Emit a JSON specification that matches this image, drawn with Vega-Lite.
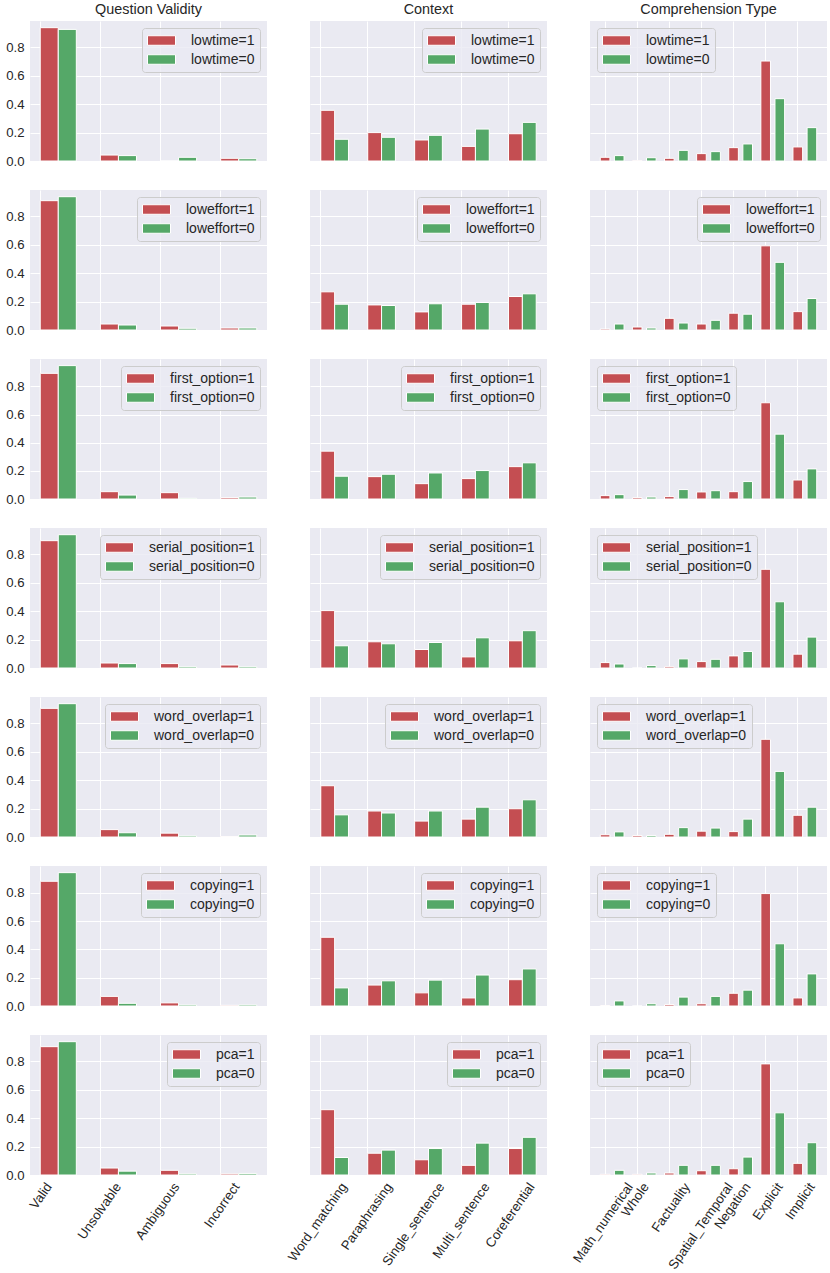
{
  "$schema": "https://vega.github.io/schema/vega-lite/v6.json",
  "background": "#ffffff",
  "padding": {"left": 5, "top": 1, "right": 0, "bottom": 0},
  "autosize": {"type": "pad"},
  "data": {
    "values": [
      {"flag": "lowtime", "panel": "validity", "cat": "Valid", "series": "lowtime=1", "v": 0.939},
      {"flag": "lowtime", "panel": "validity", "cat": "Valid", "series": "lowtime=0", "v": 0.927},
      {"flag": "lowtime", "panel": "validity", "cat": "Unsolvable", "series": "lowtime=1", "v": 0.042},
      {"flag": "lowtime", "panel": "validity", "cat": "Unsolvable", "series": "lowtime=0", "v": 0.038},
      {"flag": "lowtime", "panel": "validity", "cat": "Ambiguous", "series": "lowtime=1", "v": 0.0},
      {"flag": "lowtime", "panel": "validity", "cat": "Ambiguous", "series": "lowtime=0", "v": 0.026},
      {"flag": "lowtime", "panel": "validity", "cat": "Incorrect", "series": "lowtime=1", "v": 0.019},
      {"flag": "lowtime", "panel": "validity", "cat": "Incorrect", "series": "lowtime=0", "v": 0.016},
      {"flag": "lowtime", "panel": "context", "cat": "Word_matching", "series": "lowtime=1", "v": 0.357},
      {"flag": "lowtime", "panel": "context", "cat": "Word_matching", "series": "lowtime=0", "v": 0.153},
      {"flag": "lowtime", "panel": "context", "cat": "Paraphrasing", "series": "lowtime=1", "v": 0.200},
      {"flag": "lowtime", "panel": "context", "cat": "Paraphrasing", "series": "lowtime=0", "v": 0.167},
      {"flag": "lowtime", "panel": "context", "cat": "Single_sentence", "series": "lowtime=1", "v": 0.148},
      {"flag": "lowtime", "panel": "context", "cat": "Single_sentence", "series": "lowtime=0", "v": 0.181},
      {"flag": "lowtime", "panel": "context", "cat": "Multi_sentence", "series": "lowtime=1", "v": 0.103},
      {"flag": "lowtime", "panel": "context", "cat": "Multi_sentence", "series": "lowtime=0", "v": 0.225},
      {"flag": "lowtime", "panel": "context", "cat": "Coreferential", "series": "lowtime=1", "v": 0.192},
      {"flag": "lowtime", "panel": "context", "cat": "Coreferential", "series": "lowtime=0", "v": 0.272},
      {"flag": "lowtime", "panel": "comprehension", "cat": "Math_numerical", "series": "lowtime=1", "v": 0.026},
      {"flag": "lowtime", "panel": "comprehension", "cat": "Math_numerical", "series": "lowtime=0", "v": 0.038},
      {"flag": "lowtime", "panel": "comprehension", "cat": "Whole", "series": "lowtime=1", "v": 0.002},
      {"flag": "lowtime", "panel": "comprehension", "cat": "Whole", "series": "lowtime=0", "v": 0.023},
      {"flag": "lowtime", "panel": "comprehension", "cat": "Factuality", "series": "lowtime=1", "v": 0.019},
      {"flag": "lowtime", "panel": "comprehension", "cat": "Factuality", "series": "lowtime=0", "v": 0.075},
      {"flag": "lowtime", "panel": "comprehension", "cat": "Spatial_Temporal", "series": "lowtime=1", "v": 0.052},
      {"flag": "lowtime", "panel": "comprehension", "cat": "Spatial_Temporal", "series": "lowtime=0", "v": 0.066},
      {"flag": "lowtime", "panel": "comprehension", "cat": "Negation", "series": "lowtime=1", "v": 0.094},
      {"flag": "lowtime", "panel": "comprehension", "cat": "Negation", "series": "lowtime=0", "v": 0.120},
      {"flag": "lowtime", "panel": "comprehension", "cat": "Explicit", "series": "lowtime=1", "v": 0.704},
      {"flag": "lowtime", "panel": "comprehension", "cat": "Explicit", "series": "lowtime=0", "v": 0.439},
      {"flag": "lowtime", "panel": "comprehension", "cat": "Implicit", "series": "lowtime=1", "v": 0.099},
      {"flag": "lowtime", "panel": "comprehension", "cat": "Implicit", "series": "lowtime=0", "v": 0.235},

      {"flag": "loweffort", "panel": "validity", "cat": "Valid", "series": "loweffort=1", "v": 0.908},
      {"flag": "loweffort", "panel": "validity", "cat": "Valid", "series": "loweffort=0", "v": 0.936},
      {"flag": "loweffort", "panel": "validity", "cat": "Unsolvable", "series": "loweffort=1", "v": 0.042},
      {"flag": "loweffort", "panel": "validity", "cat": "Unsolvable", "series": "loweffort=0", "v": 0.035},
      {"flag": "loweffort", "panel": "validity", "cat": "Ambiguous", "series": "loweffort=1", "v": 0.028},
      {"flag": "loweffort", "panel": "validity", "cat": "Ambiguous", "series": "loweffort=0", "v": 0.012},
      {"flag": "loweffort", "panel": "validity", "cat": "Incorrect", "series": "loweffort=1", "v": 0.014},
      {"flag": "loweffort", "panel": "validity", "cat": "Incorrect", "series": "loweffort=0", "v": 0.014},
      {"flag": "loweffort", "panel": "context", "cat": "Word_matching", "series": "loweffort=1", "v": 0.268},
      {"flag": "loweffort", "panel": "context", "cat": "Word_matching", "series": "loweffort=0", "v": 0.181},
      {"flag": "loweffort", "panel": "context", "cat": "Paraphrasing", "series": "loweffort=1", "v": 0.176},
      {"flag": "loweffort", "panel": "context", "cat": "Paraphrasing", "series": "loweffort=0", "v": 0.172},
      {"flag": "loweffort", "panel": "context", "cat": "Single_sentence", "series": "loweffort=1", "v": 0.127},
      {"flag": "loweffort", "panel": "context", "cat": "Single_sentence", "series": "loweffort=0", "v": 0.184},
      {"flag": "loweffort", "panel": "context", "cat": "Multi_sentence", "series": "loweffort=1", "v": 0.181},
      {"flag": "loweffort", "panel": "context", "cat": "Multi_sentence", "series": "loweffort=0", "v": 0.193},
      {"flag": "loweffort", "panel": "context", "cat": "Coreferential", "series": "loweffort=1", "v": 0.235},
      {"flag": "loweffort", "panel": "context", "cat": "Coreferential", "series": "loweffort=0", "v": 0.254},
      {"flag": "loweffort", "panel": "comprehension", "cat": "Math_numerical", "series": "loweffort=1", "v": 0.007},
      {"flag": "loweffort", "panel": "comprehension", "cat": "Math_numerical", "series": "loweffort=0", "v": 0.042},
      {"flag": "loweffort", "panel": "comprehension", "cat": "Whole", "series": "loweffort=1", "v": 0.021},
      {"flag": "loweffort", "panel": "comprehension", "cat": "Whole", "series": "loweffort=0", "v": 0.014},
      {"flag": "loweffort", "panel": "comprehension", "cat": "Factuality", "series": "loweffort=1", "v": 0.082},
      {"flag": "loweffort", "panel": "comprehension", "cat": "Factuality", "series": "loweffort=0", "v": 0.049},
      {"flag": "loweffort", "panel": "comprehension", "cat": "Spatial_Temporal", "series": "loweffort=1", "v": 0.042},
      {"flag": "loweffort", "panel": "comprehension", "cat": "Spatial_Temporal", "series": "loweffort=0", "v": 0.068},
      {"flag": "loweffort", "panel": "comprehension", "cat": "Negation", "series": "loweffort=1", "v": 0.118},
      {"flag": "loweffort", "panel": "comprehension", "cat": "Negation", "series": "loweffort=0", "v": 0.111},
      {"flag": "loweffort", "panel": "comprehension", "cat": "Explicit", "series": "loweffort=1", "v": 0.591},
      {"flag": "loweffort", "panel": "comprehension", "cat": "Explicit", "series": "loweffort=0", "v": 0.475},
      {"flag": "loweffort", "panel": "comprehension", "cat": "Implicit", "series": "loweffort=1", "v": 0.129},
      {"flag": "loweffort", "panel": "comprehension", "cat": "Implicit", "series": "loweffort=0", "v": 0.221},

      {"flag": "first_option", "panel": "validity", "cat": "Valid", "series": "first_option=1", "v": 0.893},
      {"flag": "first_option", "panel": "validity", "cat": "Valid", "series": "first_option=0", "v": 0.948},
      {"flag": "first_option", "panel": "validity", "cat": "Unsolvable", "series": "first_option=1", "v": 0.052},
      {"flag": "first_option", "panel": "validity", "cat": "Unsolvable", "series": "first_option=0", "v": 0.028},
      {"flag": "first_option", "panel": "validity", "cat": "Ambiguous", "series": "first_option=1", "v": 0.045},
      {"flag": "first_option", "panel": "validity", "cat": "Ambiguous", "series": "first_option=0", "v": 0.005},
      {"flag": "first_option", "panel": "validity", "cat": "Incorrect", "series": "first_option=1", "v": 0.010},
      {"flag": "first_option", "panel": "validity", "cat": "Incorrect", "series": "first_option=0", "v": 0.014},
      {"flag": "first_option", "panel": "context", "cat": "Word_matching", "series": "first_option=1", "v": 0.340},
      {"flag": "first_option", "panel": "context", "cat": "Word_matching", "series": "first_option=0", "v": 0.162},
      {"flag": "first_option", "panel": "context", "cat": "Paraphrasing", "series": "first_option=1", "v": 0.159},
      {"flag": "first_option", "panel": "context", "cat": "Paraphrasing", "series": "first_option=0", "v": 0.176},
      {"flag": "first_option", "panel": "context", "cat": "Single_sentence", "series": "first_option=1", "v": 0.109},
      {"flag": "first_option", "panel": "context", "cat": "Single_sentence", "series": "first_option=0", "v": 0.185},
      {"flag": "first_option", "panel": "context", "cat": "Multi_sentence", "series": "first_option=1", "v": 0.145},
      {"flag": "first_option", "panel": "context", "cat": "Multi_sentence", "series": "first_option=0", "v": 0.202},
      {"flag": "first_option", "panel": "context", "cat": "Coreferential", "series": "first_option=1", "v": 0.230},
      {"flag": "first_option", "panel": "context", "cat": "Coreferential", "series": "first_option=0", "v": 0.257},
      {"flag": "first_option", "panel": "comprehension", "cat": "Math_numerical", "series": "first_option=1", "v": 0.024},
      {"flag": "first_option", "panel": "comprehension", "cat": "Math_numerical", "series": "first_option=0", "v": 0.031},
      {"flag": "first_option", "panel": "comprehension", "cat": "Whole", "series": "first_option=1", "v": 0.010},
      {"flag": "first_option", "panel": "comprehension", "cat": "Whole", "series": "first_option=0", "v": 0.014},
      {"flag": "first_option", "panel": "comprehension", "cat": "Factuality", "series": "first_option=1", "v": 0.017},
      {"flag": "first_option", "panel": "comprehension", "cat": "Factuality", "series": "first_option=0", "v": 0.067},
      {"flag": "first_option", "panel": "comprehension", "cat": "Spatial_Temporal", "series": "first_option=1", "v": 0.050},
      {"flag": "first_option", "panel": "comprehension", "cat": "Spatial_Temporal", "series": "first_option=0", "v": 0.059},
      {"flag": "first_option", "panel": "comprehension", "cat": "Negation", "series": "first_option=1", "v": 0.052},
      {"flag": "first_option", "panel": "comprehension", "cat": "Negation", "series": "first_option=0", "v": 0.124},
      {"flag": "first_option", "panel": "comprehension", "cat": "Explicit", "series": "first_option=1", "v": 0.684},
      {"flag": "first_option", "panel": "comprehension", "cat": "Explicit", "series": "first_option=0", "v": 0.461},
      {"flag": "first_option", "panel": "comprehension", "cat": "Implicit", "series": "first_option=1", "v": 0.135},
      {"flag": "first_option", "panel": "comprehension", "cat": "Implicit", "series": "first_option=0", "v": 0.214},

      {"flag": "serial_position", "panel": "validity", "cat": "Valid", "series": "serial_position=1", "v": 0.894},
      {"flag": "serial_position", "panel": "validity", "cat": "Valid", "series": "serial_position=0", "v": 0.936},
      {"flag": "serial_position", "panel": "validity", "cat": "Unsolvable", "series": "serial_position=1", "v": 0.035},
      {"flag": "serial_position", "panel": "validity", "cat": "Unsolvable", "series": "serial_position=0", "v": 0.031},
      {"flag": "serial_position", "panel": "validity", "cat": "Ambiguous", "series": "serial_position=1", "v": 0.031},
      {"flag": "serial_position", "panel": "validity", "cat": "Ambiguous", "series": "serial_position=0", "v": 0.009},
      {"flag": "serial_position", "panel": "validity", "cat": "Incorrect", "series": "serial_position=1", "v": 0.021},
      {"flag": "serial_position", "panel": "validity", "cat": "Incorrect", "series": "serial_position=0", "v": 0.009},
      {"flag": "serial_position", "panel": "context", "cat": "Word_matching", "series": "serial_position=1", "v": 0.403},
      {"flag": "serial_position", "panel": "context", "cat": "Word_matching", "series": "serial_position=0", "v": 0.156},
      {"flag": "serial_position", "panel": "context", "cat": "Paraphrasing", "series": "serial_position=1", "v": 0.184},
      {"flag": "serial_position", "panel": "context", "cat": "Paraphrasing", "series": "serial_position=0", "v": 0.170},
      {"flag": "serial_position", "panel": "context", "cat": "Single_sentence", "series": "serial_position=1", "v": 0.130},
      {"flag": "serial_position", "panel": "context", "cat": "Single_sentence", "series": "serial_position=0", "v": 0.179},
      {"flag": "serial_position", "panel": "context", "cat": "Multi_sentence", "series": "serial_position=1", "v": 0.078},
      {"flag": "serial_position", "panel": "context", "cat": "Multi_sentence", "series": "serial_position=0", "v": 0.212},
      {"flag": "serial_position", "panel": "context", "cat": "Coreferential", "series": "serial_position=1", "v": 0.191},
      {"flag": "serial_position", "panel": "context", "cat": "Coreferential", "series": "serial_position=0", "v": 0.262},
      {"flag": "serial_position", "panel": "comprehension", "cat": "Math_numerical", "series": "serial_position=1", "v": 0.038},
      {"flag": "serial_position", "panel": "comprehension", "cat": "Math_numerical", "series": "serial_position=0", "v": 0.028},
      {"flag": "serial_position", "panel": "comprehension", "cat": "Whole", "series": "serial_position=1", "v": 0.0},
      {"flag": "serial_position", "panel": "comprehension", "cat": "Whole", "series": "serial_position=0", "v": 0.017},
      {"flag": "serial_position", "panel": "comprehension", "cat": "Factuality", "series": "serial_position=1", "v": 0.009},
      {"flag": "serial_position", "panel": "comprehension", "cat": "Factuality", "series": "serial_position=0", "v": 0.064},
      {"flag": "serial_position", "panel": "comprehension", "cat": "Spatial_Temporal", "series": "serial_position=1", "v": 0.045},
      {"flag": "serial_position", "panel": "comprehension", "cat": "Spatial_Temporal", "series": "serial_position=0", "v": 0.061},
      {"flag": "serial_position", "panel": "comprehension", "cat": "Negation", "series": "serial_position=1", "v": 0.085},
      {"flag": "serial_position", "panel": "comprehension", "cat": "Negation", "series": "serial_position=0", "v": 0.116},
      {"flag": "serial_position", "panel": "comprehension", "cat": "Explicit", "series": "serial_position=1", "v": 0.693},
      {"flag": "serial_position", "panel": "comprehension", "cat": "Explicit", "series": "serial_position=0", "v": 0.465},
      {"flag": "serial_position", "panel": "comprehension", "cat": "Implicit", "series": "serial_position=1", "v": 0.097},
      {"flag": "serial_position", "panel": "comprehension", "cat": "Implicit", "series": "serial_position=0", "v": 0.217},

      {"flag": "word_overlap", "panel": "validity", "cat": "Valid", "series": "word_overlap=1", "v": 0.906},
      {"flag": "word_overlap", "panel": "validity", "cat": "Valid", "series": "word_overlap=0", "v": 0.939},
      {"flag": "word_overlap", "panel": "validity", "cat": "Unsolvable", "series": "word_overlap=1", "v": 0.052},
      {"flag": "word_overlap", "panel": "validity", "cat": "Unsolvable", "series": "word_overlap=0", "v": 0.030},
      {"flag": "word_overlap", "panel": "validity", "cat": "Ambiguous", "series": "word_overlap=1", "v": 0.027},
      {"flag": "word_overlap", "panel": "validity", "cat": "Ambiguous", "series": "word_overlap=0", "v": 0.008},
      {"flag": "word_overlap", "panel": "validity", "cat": "Incorrect", "series": "word_overlap=1", "v": 0.003},
      {"flag": "word_overlap", "panel": "validity", "cat": "Incorrect", "series": "word_overlap=0", "v": 0.014},
      {"flag": "word_overlap", "panel": "context", "cat": "Word_matching", "series": "word_overlap=1", "v": 0.361},
      {"flag": "word_overlap", "panel": "context", "cat": "Word_matching", "series": "word_overlap=0", "v": 0.156},
      {"flag": "word_overlap", "panel": "context", "cat": "Paraphrasing", "series": "word_overlap=1", "v": 0.183},
      {"flag": "word_overlap", "panel": "context", "cat": "Paraphrasing", "series": "word_overlap=0", "v": 0.169},
      {"flag": "word_overlap", "panel": "context", "cat": "Single_sentence", "series": "word_overlap=1", "v": 0.112},
      {"flag": "word_overlap", "panel": "context", "cat": "Single_sentence", "series": "word_overlap=0", "v": 0.183},
      {"flag": "word_overlap", "panel": "context", "cat": "Multi_sentence", "series": "word_overlap=1", "v": 0.126},
      {"flag": "word_overlap", "panel": "context", "cat": "Multi_sentence", "series": "word_overlap=0", "v": 0.210},
      {"flag": "word_overlap", "panel": "context", "cat": "Coreferential", "series": "word_overlap=1", "v": 0.199},
      {"flag": "word_overlap", "panel": "context", "cat": "Coreferential", "series": "word_overlap=0", "v": 0.262},
      {"flag": "word_overlap", "panel": "comprehension", "cat": "Math_numerical", "series": "word_overlap=1", "v": 0.016},
      {"flag": "word_overlap", "panel": "comprehension", "cat": "Math_numerical", "series": "word_overlap=0", "v": 0.036},
      {"flag": "word_overlap", "panel": "comprehension", "cat": "Whole", "series": "word_overlap=1", "v": 0.011},
      {"flag": "word_overlap", "panel": "comprehension", "cat": "Whole", "series": "word_overlap=0", "v": 0.011},
      {"flag": "word_overlap", "panel": "comprehension", "cat": "Factuality", "series": "word_overlap=1", "v": 0.019},
      {"flag": "word_overlap", "panel": "comprehension", "cat": "Factuality", "series": "word_overlap=0", "v": 0.066},
      {"flag": "word_overlap", "panel": "comprehension", "cat": "Spatial_Temporal", "series": "word_overlap=1", "v": 0.041},
      {"flag": "word_overlap", "panel": "comprehension", "cat": "Spatial_Temporal", "series": "word_overlap=0", "v": 0.063},
      {"flag": "word_overlap", "panel": "comprehension", "cat": "Negation", "series": "word_overlap=1", "v": 0.038},
      {"flag": "word_overlap", "panel": "comprehension", "cat": "Negation", "series": "word_overlap=0", "v": 0.126},
      {"flag": "word_overlap", "panel": "comprehension", "cat": "Explicit", "series": "word_overlap=1", "v": 0.688},
      {"flag": "word_overlap", "panel": "comprehension", "cat": "Explicit", "series": "word_overlap=0", "v": 0.462},
      {"flag": "word_overlap", "panel": "comprehension", "cat": "Implicit", "series": "word_overlap=1", "v": 0.153},
      {"flag": "word_overlap", "panel": "comprehension", "cat": "Implicit", "series": "word_overlap=0", "v": 0.210},

      {"flag": "copying", "panel": "validity", "cat": "Valid", "series": "copying=1", "v": 0.882},
      {"flag": "copying", "panel": "validity", "cat": "Valid", "series": "copying=0", "v": 0.943},
      {"flag": "copying", "panel": "validity", "cat": "Unsolvable", "series": "copying=1", "v": 0.068},
      {"flag": "copying", "panel": "validity", "cat": "Unsolvable", "series": "copying=0", "v": 0.019},
      {"flag": "copying", "panel": "validity", "cat": "Ambiguous", "series": "copying=1", "v": 0.022},
      {"flag": "copying", "panel": "validity", "cat": "Ambiguous", "series": "copying=0", "v": 0.008},
      {"flag": "copying", "panel": "validity", "cat": "Incorrect", "series": "copying=1", "v": 0.005},
      {"flag": "copying", "panel": "validity", "cat": "Incorrect", "series": "copying=0", "v": 0.008},
      {"flag": "copying", "panel": "context", "cat": "Word_matching", "series": "copying=1", "v": 0.486},
      {"flag": "copying", "panel": "context", "cat": "Word_matching", "series": "copying=0", "v": 0.128},
      {"flag": "copying", "panel": "context", "cat": "Paraphrasing", "series": "copying=1", "v": 0.148},
      {"flag": "copying", "panel": "context", "cat": "Paraphrasing", "series": "copying=0", "v": 0.178},
      {"flag": "copying", "panel": "context", "cat": "Single_sentence", "series": "copying=1", "v": 0.093},
      {"flag": "copying", "panel": "context", "cat": "Single_sentence", "series": "copying=0", "v": 0.183},
      {"flag": "copying", "panel": "context", "cat": "Multi_sentence", "series": "copying=1", "v": 0.057},
      {"flag": "copying", "panel": "context", "cat": "Multi_sentence", "series": "copying=0", "v": 0.219},
      {"flag": "copying", "panel": "context", "cat": "Coreferential", "series": "copying=1", "v": 0.186},
      {"flag": "copying", "panel": "context", "cat": "Coreferential", "series": "copying=0", "v": 0.262},
      {"flag": "copying", "panel": "comprehension", "cat": "Math_numerical", "series": "copying=1", "v": 0.003},
      {"flag": "copying", "panel": "comprehension", "cat": "Math_numerical", "series": "copying=0", "v": 0.036},
      {"flag": "copying", "panel": "comprehension", "cat": "Whole", "series": "copying=1", "v": 0.0},
      {"flag": "copying", "panel": "comprehension", "cat": "Whole", "series": "copying=0", "v": 0.016},
      {"flag": "copying", "panel": "comprehension", "cat": "Factuality", "series": "copying=1", "v": 0.011},
      {"flag": "copying", "panel": "comprehension", "cat": "Factuality", "series": "copying=0", "v": 0.063},
      {"flag": "copying", "panel": "comprehension", "cat": "Spatial_Temporal", "series": "copying=1", "v": 0.016},
      {"flag": "copying", "panel": "comprehension", "cat": "Spatial_Temporal", "series": "copying=0", "v": 0.068},
      {"flag": "copying", "panel": "comprehension", "cat": "Negation", "series": "copying=1", "v": 0.090},
      {"flag": "copying", "panel": "comprehension", "cat": "Negation", "series": "copying=0", "v": 0.112},
      {"flag": "copying", "panel": "comprehension", "cat": "Explicit", "series": "copying=1", "v": 0.795},
      {"flag": "copying", "panel": "comprehension", "cat": "Explicit", "series": "copying=0", "v": 0.440},
      {"flag": "copying", "panel": "comprehension", "cat": "Implicit", "series": "copying=1", "v": 0.057},
      {"flag": "copying", "panel": "comprehension", "cat": "Implicit", "series": "copying=0", "v": 0.227},

      {"flag": "pca", "panel": "validity", "cat": "Valid", "series": "pca=1", "v": 0.902},
      {"flag": "pca", "panel": "validity", "cat": "Valid", "series": "pca=0", "v": 0.937},
      {"flag": "pca", "panel": "validity", "cat": "Unsolvable", "series": "pca=1", "v": 0.049},
      {"flag": "pca", "panel": "validity", "cat": "Unsolvable", "series": "pca=0", "v": 0.027},
      {"flag": "pca", "panel": "validity", "cat": "Ambiguous", "series": "pca=1", "v": 0.033},
      {"flag": "pca", "panel": "validity", "cat": "Ambiguous", "series": "pca=0", "v": 0.008},
      {"flag": "pca", "panel": "validity", "cat": "Incorrect", "series": "pca=1", "v": 0.008},
      {"flag": "pca", "panel": "validity", "cat": "Incorrect", "series": "pca=0", "v": 0.011},
      {"flag": "pca", "panel": "context", "cat": "Word_matching", "series": "pca=1", "v": 0.459},
      {"flag": "pca", "panel": "context", "cat": "Word_matching", "series": "pca=0", "v": 0.123},
      {"flag": "pca", "panel": "context", "cat": "Paraphrasing", "series": "pca=1", "v": 0.153},
      {"flag": "pca", "panel": "context", "cat": "Paraphrasing", "series": "pca=0", "v": 0.175},
      {"flag": "pca", "panel": "context", "cat": "Single_sentence", "series": "pca=1", "v": 0.107},
      {"flag": "pca", "panel": "context", "cat": "Single_sentence", "series": "pca=0", "v": 0.186},
      {"flag": "pca", "panel": "context", "cat": "Multi_sentence", "series": "pca=1", "v": 0.068},
      {"flag": "pca", "panel": "context", "cat": "Multi_sentence", "series": "pca=0", "v": 0.224},
      {"flag": "pca", "panel": "context", "cat": "Coreferential", "series": "pca=1", "v": 0.186},
      {"flag": "pca", "panel": "context", "cat": "Coreferential", "series": "pca=0", "v": 0.265},
      {"flag": "pca", "panel": "comprehension", "cat": "Math_numerical", "series": "pca=1", "v": 0.005},
      {"flag": "pca", "panel": "comprehension", "cat": "Math_numerical", "series": "pca=0", "v": 0.033},
      {"flag": "pca", "panel": "comprehension", "cat": "Whole", "series": "pca=1", "v": 0.005},
      {"flag": "pca", "panel": "comprehension", "cat": "Whole", "series": "pca=0", "v": 0.014},
      {"flag": "pca", "panel": "comprehension", "cat": "Factuality", "series": "pca=1", "v": 0.014},
      {"flag": "pca", "panel": "comprehension", "cat": "Factuality", "series": "pca=0", "v": 0.068},
      {"flag": "pca", "panel": "comprehension", "cat": "Spatial_Temporal", "series": "pca=1", "v": 0.030},
      {"flag": "pca", "panel": "comprehension", "cat": "Spatial_Temporal", "series": "pca=0", "v": 0.068},
      {"flag": "pca", "panel": "comprehension", "cat": "Negation", "series": "pca=1", "v": 0.044},
      {"flag": "pca", "panel": "comprehension", "cat": "Negation", "series": "pca=0", "v": 0.126},
      {"flag": "pca", "panel": "comprehension", "cat": "Explicit", "series": "pca=1", "v": 0.781},
      {"flag": "pca", "panel": "comprehension", "cat": "Explicit", "series": "pca=0", "v": 0.437},
      {"flag": "pca", "panel": "comprehension", "cat": "Implicit", "series": "pca=1", "v": 0.082},
      {"flag": "pca", "panel": "comprehension", "cat": "Implicit", "series": "pca=0", "v": 0.227}
    ]
  },
  "columns": 3,
  "bounds": "flush",
  "spacing": {"row": 29, "column": 43},
  "resolve": {
    "scale": {"x": "independent", "y": "independent", "color": "independent", "xOffset": "independent"},
    "legend": {"color": "independent"}
  },
  "concat": [
    {
      "title": "Question Validity", "width": 237, "height": 140,
      "transform": [{"filter": "datum.flag == 'lowtime' && datum.panel == 'validity'"}],
      "mark": "bar",
      "encoding": {
        "x": {"field": "cat", "type": "nominal", "title": null, "sort": ["Valid", "Unsolvable", "Ambiguous", "Incorrect"], "scale": {"paddingInner": 0.4, "paddingOuter": 0.17}, "axis": {"bandPosition": 0, "labels": false}},
        "xOffset": {"field": "series", "type": "nominal", "sort": "descending"},
        "y": {"field": "v", "type": "quantitative", "title": null, "scale": {"domain": [0, 0.986]}},
        "color": {"field": "series", "type": "nominal", "sort": "descending", "legend": {"title": null, "orient": "top-right"}}
      }
    },
    {
      "title": "Context", "width": 237, "height": 140,
      "transform": [{"filter": "datum.flag == 'lowtime' && datum.panel == 'context'"}],
      "mark": "bar",
      "encoding": {
        "x": {"field": "cat", "type": "nominal", "title": null, "sort": ["Word_matching", "Paraphrasing", "Single_sentence", "Multi_sentence", "Coreferential"], "scale": {"paddingInner": 0.41, "paddingOuter": 0.23}, "axis": {"bandPosition": 0, "labels": false}},
        "xOffset": {"field": "series", "type": "nominal", "sort": "descending"},
        "y": {"field": "v", "type": "quantitative", "title": null, "scale": {"domain": [0, 0.986]}, "axis": {"labels": false}},
        "color": {"field": "series", "type": "nominal", "sort": "descending", "legend": {"title": null, "orient": "top-right"}}
      }
    },
    {
      "title": "Comprehension Type", "width": 237, "height": 140,
      "transform": [{"filter": "datum.flag == 'lowtime' && datum.panel == 'comprehension'"}],
      "mark": "bar",
      "encoding": {
        "x": {"field": "cat", "type": "nominal", "title": null, "sort": ["Math_numerical", "Whole", "Factuality", "Spatial_Temporal", "Negation", "Explicit", "Implicit"], "scale": {"paddingInner": 0.26, "paddingOuter": 0.32}, "axis": {"bandPosition": 0.203, "labels": false}},
        "xOffset": {"field": "series", "type": "nominal", "sort": "descending", "scale": {"paddingInner": 0.318}},
        "y": {"field": "v", "type": "quantitative", "title": null, "scale": {"domain": [0, 0.986]}, "axis": {"labels": false}},
        "color": {"field": "series", "type": "nominal", "sort": "descending", "legend": {"title": null, "orient": "top-left"}}
      }
    },
    {
      "width": 237, "height": 140,
      "transform": [{"filter": "datum.flag == 'loweffort' && datum.panel == 'validity'"}],
      "mark": "bar",
      "encoding": {
        "x": {"field": "cat", "type": "nominal", "title": null, "sort": ["Valid", "Unsolvable", "Ambiguous", "Incorrect"], "scale": {"paddingInner": 0.4, "paddingOuter": 0.17}, "axis": {"bandPosition": 0, "labels": false}},
        "xOffset": {"field": "series", "type": "nominal", "sort": "descending"},
        "y": {"field": "v", "type": "quantitative", "title": null, "scale": {"domain": [0, 0.983]}},
        "color": {"field": "series", "type": "nominal", "sort": "descending", "legend": {"title": null, "orient": "top-right"}}
      }
    },
    {
      "width": 237, "height": 140,
      "transform": [{"filter": "datum.flag == 'loweffort' && datum.panel == 'context'"}],
      "mark": "bar",
      "encoding": {
        "x": {"field": "cat", "type": "nominal", "title": null, "sort": ["Word_matching", "Paraphrasing", "Single_sentence", "Multi_sentence", "Coreferential"], "scale": {"paddingInner": 0.41, "paddingOuter": 0.23}, "axis": {"bandPosition": 0, "labels": false}},
        "xOffset": {"field": "series", "type": "nominal", "sort": "descending"},
        "y": {"field": "v", "type": "quantitative", "title": null, "scale": {"domain": [0, 0.983]}, "axis": {"labels": false}},
        "color": {"field": "series", "type": "nominal", "sort": "descending", "legend": {"title": null, "orient": "top-right"}}
      }
    },
    {
      "width": 237, "height": 140,
      "transform": [{"filter": "datum.flag == 'loweffort' && datum.panel == 'comprehension'"}],
      "mark": "bar",
      "encoding": {
        "x": {"field": "cat", "type": "nominal", "title": null, "sort": ["Math_numerical", "Whole", "Factuality", "Spatial_Temporal", "Negation", "Explicit", "Implicit"], "scale": {"paddingInner": 0.26, "paddingOuter": 0.32}, "axis": {"bandPosition": 0.203, "labels": false}},
        "xOffset": {"field": "series", "type": "nominal", "sort": "descending", "scale": {"paddingInner": 0.318}},
        "y": {"field": "v", "type": "quantitative", "title": null, "scale": {"domain": [0, 0.983]}, "axis": {"labels": false}},
        "color": {"field": "series", "type": "nominal", "sort": "descending", "legend": {"title": null, "orient": "top-right"}}
      }
    },
    {
      "width": 237, "height": 140,
      "transform": [{"filter": "datum.flag == 'first_option' && datum.panel == 'validity'"}],
      "mark": "bar",
      "encoding": {
        "x": {"field": "cat", "type": "nominal", "title": null, "sort": ["Valid", "Unsolvable", "Ambiguous", "Incorrect"], "scale": {"paddingInner": 0.4, "paddingOuter": 0.17}, "axis": {"bandPosition": 0, "labels": false}},
        "xOffset": {"field": "series", "type": "nominal", "sort": "descending"},
        "y": {"field": "v", "type": "quantitative", "title": null, "scale": {"domain": [0, 0.995]}},
        "color": {"field": "series", "type": "nominal", "sort": "descending", "legend": {"title": null, "orient": "top-right"}}
      }
    },
    {
      "width": 237, "height": 140,
      "transform": [{"filter": "datum.flag == 'first_option' && datum.panel == 'context'"}],
      "mark": "bar",
      "encoding": {
        "x": {"field": "cat", "type": "nominal", "title": null, "sort": ["Word_matching", "Paraphrasing", "Single_sentence", "Multi_sentence", "Coreferential"], "scale": {"paddingInner": 0.41, "paddingOuter": 0.23}, "axis": {"bandPosition": 0, "labels": false}},
        "xOffset": {"field": "series", "type": "nominal", "sort": "descending"},
        "y": {"field": "v", "type": "quantitative", "title": null, "scale": {"domain": [0, 0.995]}, "axis": {"labels": false}},
        "color": {"field": "series", "type": "nominal", "sort": "descending", "legend": {"title": null, "orient": "top-right"}}
      }
    },
    {
      "width": 237, "height": 140,
      "transform": [{"filter": "datum.flag == 'first_option' && datum.panel == 'comprehension'"}],
      "mark": "bar",
      "encoding": {
        "x": {"field": "cat", "type": "nominal", "title": null, "sort": ["Math_numerical", "Whole", "Factuality", "Spatial_Temporal", "Negation", "Explicit", "Implicit"], "scale": {"paddingInner": 0.26, "paddingOuter": 0.32}, "axis": {"bandPosition": 0.203, "labels": false}},
        "xOffset": {"field": "series", "type": "nominal", "sort": "descending", "scale": {"paddingInner": 0.318}},
        "y": {"field": "v", "type": "quantitative", "title": null, "scale": {"domain": [0, 0.995]}, "axis": {"labels": false}},
        "color": {"field": "series", "type": "nominal", "sort": "descending", "legend": {"title": null, "orient": "top-left"}}
      }
    },
    {
      "width": 237, "height": 140,
      "transform": [{"filter": "datum.flag == 'serial_position' && datum.panel == 'validity'"}],
      "mark": "bar",
      "encoding": {
        "x": {"field": "cat", "type": "nominal", "title": null, "sort": ["Valid", "Unsolvable", "Ambiguous", "Incorrect"], "scale": {"paddingInner": 0.4, "paddingOuter": 0.17}, "axis": {"bandPosition": 0, "labels": false}},
        "xOffset": {"field": "series", "type": "nominal", "sort": "descending"},
        "y": {"field": "v", "type": "quantitative", "title": null, "scale": {"domain": [0, 0.983]}},
        "color": {"field": "series", "type": "nominal", "sort": "descending", "legend": {"title": null, "orient": "top-right"}}
      }
    },
    {
      "width": 237, "height": 140,
      "transform": [{"filter": "datum.flag == 'serial_position' && datum.panel == 'context'"}],
      "mark": "bar",
      "encoding": {
        "x": {"field": "cat", "type": "nominal", "title": null, "sort": ["Word_matching", "Paraphrasing", "Single_sentence", "Multi_sentence", "Coreferential"], "scale": {"paddingInner": 0.41, "paddingOuter": 0.23}, "axis": {"bandPosition": 0, "labels": false}},
        "xOffset": {"field": "series", "type": "nominal", "sort": "descending"},
        "y": {"field": "v", "type": "quantitative", "title": null, "scale": {"domain": [0, 0.983]}, "axis": {"labels": false}},
        "color": {"field": "series", "type": "nominal", "sort": "descending", "legend": {"title": null, "orient": "top-right"}}
      }
    },
    {
      "width": 237, "height": 140,
      "transform": [{"filter": "datum.flag == 'serial_position' && datum.panel == 'comprehension'"}],
      "mark": "bar",
      "encoding": {
        "x": {"field": "cat", "type": "nominal", "title": null, "sort": ["Math_numerical", "Whole", "Factuality", "Spatial_Temporal", "Negation", "Explicit", "Implicit"], "scale": {"paddingInner": 0.26, "paddingOuter": 0.32}, "axis": {"bandPosition": 0.203, "labels": false}},
        "xOffset": {"field": "series", "type": "nominal", "sort": "descending", "scale": {"paddingInner": 0.318}},
        "y": {"field": "v", "type": "quantitative", "title": null, "scale": {"domain": [0, 0.983]}, "axis": {"labels": false}},
        "color": {"field": "series", "type": "nominal", "sort": "descending", "legend": {"title": null, "orient": "top-left"}}
      }
    },
    {
      "width": 237, "height": 140,
      "transform": [{"filter": "datum.flag == 'word_overlap' && datum.panel == 'validity'"}],
      "mark": "bar",
      "encoding": {
        "x": {"field": "cat", "type": "nominal", "title": null, "sort": ["Valid", "Unsolvable", "Ambiguous", "Incorrect"], "scale": {"paddingInner": 0.4, "paddingOuter": 0.17}, "axis": {"bandPosition": 0, "labels": false}},
        "xOffset": {"field": "series", "type": "nominal", "sort": "descending"},
        "y": {"field": "v", "type": "quantitative", "title": null, "scale": {"domain": [0, 0.986]}},
        "color": {"field": "series", "type": "nominal", "sort": "descending", "legend": {"title": null, "orient": "top-right"}}
      }
    },
    {
      "width": 237, "height": 140,
      "transform": [{"filter": "datum.flag == 'word_overlap' && datum.panel == 'context'"}],
      "mark": "bar",
      "encoding": {
        "x": {"field": "cat", "type": "nominal", "title": null, "sort": ["Word_matching", "Paraphrasing", "Single_sentence", "Multi_sentence", "Coreferential"], "scale": {"paddingInner": 0.41, "paddingOuter": 0.23}, "axis": {"bandPosition": 0, "labels": false}},
        "xOffset": {"field": "series", "type": "nominal", "sort": "descending"},
        "y": {"field": "v", "type": "quantitative", "title": null, "scale": {"domain": [0, 0.986]}, "axis": {"labels": false}},
        "color": {"field": "series", "type": "nominal", "sort": "descending", "legend": {"title": null, "orient": "top-right"}}
      }
    },
    {
      "width": 237, "height": 140,
      "transform": [{"filter": "datum.flag == 'word_overlap' && datum.panel == 'comprehension'"}],
      "mark": "bar",
      "encoding": {
        "x": {"field": "cat", "type": "nominal", "title": null, "sort": ["Math_numerical", "Whole", "Factuality", "Spatial_Temporal", "Negation", "Explicit", "Implicit"], "scale": {"paddingInner": 0.26, "paddingOuter": 0.32}, "axis": {"bandPosition": 0.203, "labels": false}},
        "xOffset": {"field": "series", "type": "nominal", "sort": "descending", "scale": {"paddingInner": 0.318}},
        "y": {"field": "v", "type": "quantitative", "title": null, "scale": {"domain": [0, 0.986]}, "axis": {"labels": false}},
        "color": {"field": "series", "type": "nominal", "sort": "descending", "legend": {"title": null, "orient": "top-left"}}
      }
    },
    {
      "width": 237, "height": 140,
      "transform": [{"filter": "datum.flag == 'copying' && datum.panel == 'validity'"}],
      "mark": "bar",
      "encoding": {
        "x": {"field": "cat", "type": "nominal", "title": null, "sort": ["Valid", "Unsolvable", "Ambiguous", "Incorrect"], "scale": {"paddingInner": 0.4, "paddingOuter": 0.17}, "axis": {"bandPosition": 0, "labels": false}},
        "xOffset": {"field": "series", "type": "nominal", "sort": "descending"},
        "y": {"field": "v", "type": "quantitative", "title": null, "scale": {"domain": [0, 0.99]}},
        "color": {"field": "series", "type": "nominal", "sort": "descending", "legend": {"title": null, "orient": "top-right"}}
      }
    },
    {
      "width": 237, "height": 140,
      "transform": [{"filter": "datum.flag == 'copying' && datum.panel == 'context'"}],
      "mark": "bar",
      "encoding": {
        "x": {"field": "cat", "type": "nominal", "title": null, "sort": ["Word_matching", "Paraphrasing", "Single_sentence", "Multi_sentence", "Coreferential"], "scale": {"paddingInner": 0.41, "paddingOuter": 0.23}, "axis": {"bandPosition": 0, "labels": false}},
        "xOffset": {"field": "series", "type": "nominal", "sort": "descending"},
        "y": {"field": "v", "type": "quantitative", "title": null, "scale": {"domain": [0, 0.99]}, "axis": {"labels": false}},
        "color": {"field": "series", "type": "nominal", "sort": "descending", "legend": {"title": null, "orient": "top-right"}}
      }
    },
    {
      "width": 237, "height": 140,
      "transform": [{"filter": "datum.flag == 'copying' && datum.panel == 'comprehension'"}],
      "mark": "bar",
      "encoding": {
        "x": {"field": "cat", "type": "nominal", "title": null, "sort": ["Math_numerical", "Whole", "Factuality", "Spatial_Temporal", "Negation", "Explicit", "Implicit"], "scale": {"paddingInner": 0.26, "paddingOuter": 0.32}, "axis": {"bandPosition": 0.203, "labels": false}},
        "xOffset": {"field": "series", "type": "nominal", "sort": "descending", "scale": {"paddingInner": 0.318}},
        "y": {"field": "v", "type": "quantitative", "title": null, "scale": {"domain": [0, 0.99]}, "axis": {"labels": false}},
        "color": {"field": "series", "type": "nominal", "sort": "descending", "legend": {"title": null, "orient": "top-left"}}
      }
    },
    {
      "width": 237, "height": 140,
      "transform": [{"filter": "datum.flag == 'pca' && datum.panel == 'validity'"}],
      "mark": "bar",
      "encoding": {
        "x": {"field": "cat", "type": "nominal", "title": null, "sort": ["Valid", "Unsolvable", "Ambiguous", "Incorrect"], "scale": {"paddingInner": 0.4, "paddingOuter": 0.17}, "axis": {"bandPosition": 0, "labelOffset": {"expr": "length(datum.label) * 1.8 - 18"}}},
        "xOffset": {"field": "series", "type": "nominal", "sort": "descending"},
        "y": {"field": "v", "type": "quantitative", "title": null, "scale": {"domain": [0, 0.984]}},
        "color": {"field": "series", "type": "nominal", "sort": "descending", "legend": {"title": null, "orient": "top-right"}}
      }
    },
    {
      "width": 237, "height": 140,
      "transform": [{"filter": "datum.flag == 'pca' && datum.panel == 'context'"}],
      "mark": "bar",
      "encoding": {
        "x": {"field": "cat", "type": "nominal", "title": null, "sort": ["Word_matching", "Paraphrasing", "Single_sentence", "Multi_sentence", "Coreferential"], "scale": {"paddingInner": 0.41, "paddingOuter": 0.23}, "axis": {"bandPosition": 0, "labelOffset": {"expr": "length(datum.label) * 1.8 - 13.8"}}},
        "xOffset": {"field": "series", "type": "nominal", "sort": "descending"},
        "y": {"field": "v", "type": "quantitative", "title": null, "scale": {"domain": [0, 0.984]}, "axis": {"labels": false}},
        "color": {"field": "series", "type": "nominal", "sort": "descending", "legend": {"title": null, "orient": "top-right"}}
      }
    },
    {
      "width": 237, "height": 140,
      "transform": [{"filter": "datum.flag == 'pca' && datum.panel == 'comprehension'"}],
      "mark": "bar",
      "encoding": {
        "x": {"field": "cat", "type": "nominal", "title": null, "sort": ["Math_numerical", "Whole", "Factuality", "Spatial_Temporal", "Negation", "Explicit", "Implicit"], "scale": {"paddingInner": 0.26, "paddingOuter": 0.32}, "axis": {"bandPosition": 0.203, "labelOffset": {"expr": "length(datum.label) * 1.8 - 7.1"}}},
        "xOffset": {"field": "series", "type": "nominal", "sort": "descending", "scale": {"paddingInner": 0.318}},
        "y": {"field": "v", "type": "quantitative", "title": null, "scale": {"domain": [0, 0.984]}, "axis": {"labels": false}},
        "color": {"field": "series", "type": "nominal", "sort": "descending", "legend": {"title": null, "orient": "top-left"}}
      }
    }
  ],
  "config": {
    "font": "Liberation Sans",
    "view": {"fill": "#EAEAF2", "stroke": null},
    "bar": {"stroke": "#ffffff", "strokeWidth": 1},
    "range": {"category": ["#C44E52", "#55A868"]},
    "title": {"font": "Liberation Sans", "fontSize": 14.4, "fontWeight": "normal", "color": "#262626", "offset": 4},
    "axis": {
      "domain": false, "ticks": false, "grid": true, "gridColor": "#ffffff", "gridWidth": 1,
      "labelFont": "Liberation Sans", "labelFontSize": 13.2, "labelColor": "#262626"
    },
    "axisY": {"values": [0, 0.2, 0.4, 0.6, 0.8], "format": ".1f", "labelPadding": 6},
    "axisX": {"labelAngle": -55, "labelAlign": "right", "labelBaseline": "middle", "labelPadding": 9, "labelOverlap": false, "labelBound": false, "labelLimit": 0},
    "legend": {
      "offset": 7, "padding": 5, "fillColor": "rgba(234,234,242,0.8)", "strokeColor": "#cccccc", "cornerRadius": 3,
      "labelFont": "Liberation Sans", "labelFontSize": 14, "labelColor": "#262626", "labelOffset": 22, "rowPadding": 4,
      "symbolType": "M-2,-0.68H2V0.68H-2Z", "symbolSize": 196, "symbolOffset": 7, "symbolStrokeWidth": 0, "symbolOpacity": 1
    }
  }
}
